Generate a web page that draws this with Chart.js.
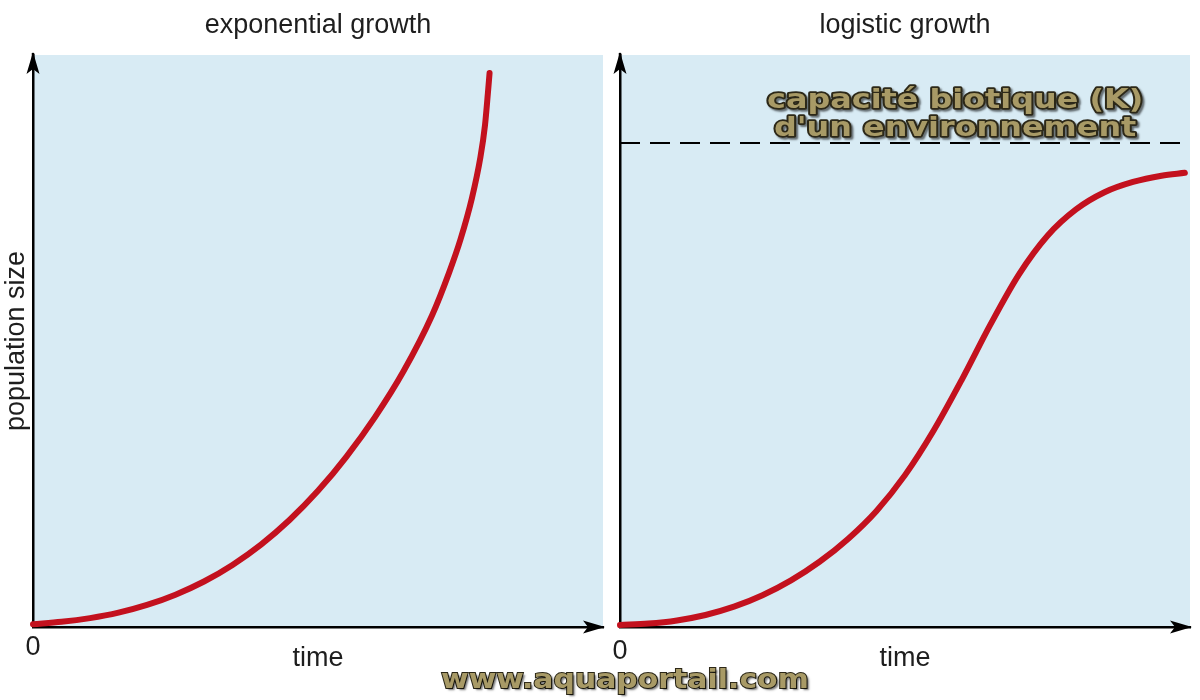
<!DOCTYPE html>
<html>
<head>
<meta charset="utf-8">
<script src="https://cdn.jsdelivr.net/npm/chart.js@4/dist/chart.umd.min.js"></script>
<style>
  body { margin: 0; background: #fff; }
  #page { position: relative; width: 1200px; height: 700px; overflow: hidden; }
  #left { position: absolute; left: 0; top: 0; }
  #right { position: absolute; left: 610px; top: 0; }
  #site {
    position: absolute; left: 0; width: 1250px; top: 664px; text-align: center;
    pointer-events: none;
  }
  #site span {
    display: inline-block; transform: scaleX(1.15);
    font: bold 26px "DejaVu Sans", Verdana, sans-serif;
    color: #a89a66; -webkit-text-stroke: 1.8px #2c2818; paint-order: stroke fill;
    text-shadow: 2px 2px 2px rgba(0,0,0,0.55);
  }
</style>
</head>
<body>
<div id="page">
  <canvas id="left" width="610" height="700"></canvas>
  <canvas id="right" width="590" height="700"></canvas>
  <div id="site"><span>www.aquaportail.com</span></div>
</div>
<script>
// ---------- DATA ----------
const xTickValues = [0];
const xTickLabels = ["0"];

// exponential growth (left panel, time 0-100, size 0-100)
const expTime = [0, 5, 10, 15, 20, 25, 30, 35, 40, 45, 50, 55, 60, 65, 70, 73, 75, 77, 78.5, 79.3, 79.8, 80.1];
const expSize = [0.5, 0.9, 1.55, 2.5, 3.85, 5.65, 7.95, 10.85, 14.4, 18.7, 23.8, 29.8, 36.7, 44.7, 54.45, 61.95, 67.75, 74.95, 82.15, 87.75, 93.25, 96.85];

// logistic growth (right panel)
const logTime = [0, 5, 10, 15, 20, 25, 30, 35, 40, 45, 50, 55, 60, 65, 70, 75, 80, 85, 90, 95, 99.1];
const logSize = [0.35, 0.6, 1.15, 2.1, 3.55, 5.55, 8.15, 11.4, 15.4, 20.3, 26.55, 34.3, 43.3, 52.9, 61.65, 68.4, 73.0, 76.0, 77.8, 78.9, 79.4];

// carrying capacity K
const kTime = [0, 100];
const kSize = [84.6, 84.6];
const kLabel = ["capacité biotique (K)", "d'un environnement"];

const BG = "#d8ebf4";
const RED = "#c3111e";
const TEXT = "#1e1e1e";
const FONT = "'Liberation Sans', Arial, sans-serif";

function toPoints(xs, ys) {
    return xs.map((x, i) => ({ x: x, y: ys[i] }));
}

// ---------- PLUGINS ----------
const panelBg = {
    id: "panelBg",
    beforeDraw(chart) {
        const a = chart.chartArea;
        const ctx = chart.ctx;
        ctx.save();
        ctx.fillStyle = BG;
        ctx.fillRect(a.left, a.top, a.right - a.left, a.bottom - a.top);
        ctx.restore();
    }
};

const arrows = {
    id: "arrows",
    afterDraw(chart) {
        const a = chart.chartArea;
        const ctx = chart.ctx;
        ctx.save();
        ctx.fillStyle = "#000";
        ctx.strokeStyle = "#000";
        ctx.lineWidth = 2.5;
        ctx.beginPath();
        ctx.moveTo(a.left, a.top + 5);
        ctx.lineTo(a.left, a.top - 2);
        ctx.stroke();
        // y head
        ctx.beginPath();
        ctx.moveTo(a.left, a.top - 3);
        ctx.lineTo(a.left - 6.5, a.top + 19);
        ctx.lineTo(a.left, a.top + 14);
        ctx.lineTo(a.left + 6.5, a.top + 19);
        ctx.closePath();
        ctx.fill();
        // x head
        ctx.beginPath();
        ctx.moveTo(a.right + 2, a.bottom);
        ctx.lineTo(a.right - 20, a.bottom - 6.5);
        ctx.lineTo(a.right - 15, a.bottom);
        ctx.lineTo(a.right - 20, a.bottom + 6.5);
        ctx.closePath();
        ctx.fill();
        ctx.restore();
    }
};

function fancyText(ctx, text, x, y, size, stretch) {
    ctx.save();
    ctx.translate(x, y);
    ctx.scale(stretch, 1);
    ctx.font = "bold " + size + "px 'DejaVu Sans', Verdana, sans-serif";
    ctx.textAlign = "center";
    ctx.textBaseline = "middle";
    ctx.lineJoin = "round";
    ctx.shadowColor = "rgba(0,0,0,0.55)";
    ctx.shadowOffsetX = 2;
    ctx.shadowOffsetY = 2;
    ctx.shadowBlur = 2;
    ctx.strokeStyle = "#2c2818";
    ctx.lineWidth = 3.4;
    ctx.strokeText(text, 0, 0);
    ctx.shadowColor = "transparent";
    ctx.fillStyle = "#a89a66";
    ctx.fillText(text, 0, 0);
    ctx.restore();
}

const kText = {
    id: "kText",
    afterDatasetsDraw(chart) {
        const xs = chart.scales.x, ys = chart.scales.y;
        const cx = xs.getPixelForValue(58.8);
        fancyText(chart.ctx, kLabel[0], cx, ys.getPixelForValue(91.9), 27, 1.18);
        fancyText(chart.ctx, kLabel[1], cx, ys.getPixelForValue(87.0), 27, 1.18);
    }
};

// ---------- CHARTS ----------
function makeOptions(title, yTitle, yWidth, padRight, tickPad) {
    return {
        responsive: false,
        animation: false,
        layout: { padding: { top: 0, right: padRight, bottom: 0, left: 0 } },
        plugins: {
            legend: { display: false },
            tooltip: { enabled: false }
        },
        scales: {
            x: {
                type: "linear",
                position: "bottom",
                min: 0,
                max: 100,
                grid: { display: false, drawTicks: false },
                border: { display: true, color: "#000", width: 2.5 },
                afterBuildTicks: s => { s.ticks = xTickValues.map(v => ({ value: v })); },
                afterFit: s => { s.height = 73; s.paddingLeft = 0; s.paddingRight = 0; },
                ticks: {
                    color: TEXT,
                    font: { family: FONT, size: 27 },
                    padding: tickPad,
                    callback: (v) => xTickLabels[xTickValues.indexOf(v)]
                },
                title: {
                    display: true,
                    text: "time",
                    color: TEXT,
                    font: { family: FONT, size: 27 },
                    padding: { top: 0, bottom: 25 }
                }
            },
            // top axis only carries the panel title, centred on the plot
            xTop: {
                type: "linear",
                position: "top",
                min: 0,
                max: 100,
                grid: { display: false, drawTicks: false },
                border: { display: false },
                ticks: { display: false },
                afterFit: s => { s.height = 55; s.paddingLeft = 0; s.paddingRight = 0; },
                title: {
                    display: true,
                    text: title,
                    color: TEXT,
                    font: { family: FONT, size: 27 },
                    padding: { top: 9.8, bottom: 0 }
                }
            },
            y: {
                type: "linear",
                min: 0,
                max: 100,
                grid: { display: false, drawTicks: false },
                border: { display: true, color: "#000", width: 2.5 },
                ticks: { display: false },
                afterFit: s => { s.width = yWidth; },
                title: {
                    display: !!yTitle,
                    text: yTitle,
                    color: TEXT,
                    font: { family: FONT, size: 27 },
                    padding: { top: 0, bottom: 0 }
                }
            }
        }
    };
}

const curveStyle = {
    xAxisID: "x",
    yAxisID: "y",
    borderColor: RED,
    borderWidth: 6,
    borderCapStyle: "round",
    borderJoinStyle: "round",
    pointRadius: 0,
    fill: false,
    cubicInterpolationMode: "monotone",
    clip: false
};

new Chart(document.getElementById("left"), {
    type: "line",
    data: {
        datasets: [
            Object.assign({ label: "exponential", data: toPoints(expTime, expSize) }, curveStyle)
        ]
    },
    options: makeOptions("exponential growth", "population size", 33, 7, 4),
    plugins: [panelBg, arrows]
});

new Chart(document.getElementById("right"), {
    type: "line",
    data: {
        datasets: [
            {
                label: "K",
                xAxisID: "x",
                yAxisID: "y",
                data: toPoints(kTime, kSize),
                borderColor: "#000",
                borderWidth: 2,
                borderDash: [20, 10],
                pointRadius: 0,
                fill: false
            },
            Object.assign({ label: "logistic", data: toPoints(logTime, logSize) }, curveStyle)
        ]
    },
    options: makeOptions("logistic growth", "", 10, 10, 8),
    plugins: [panelBg, arrows, kText]
});
</script>
</body>
</html>
